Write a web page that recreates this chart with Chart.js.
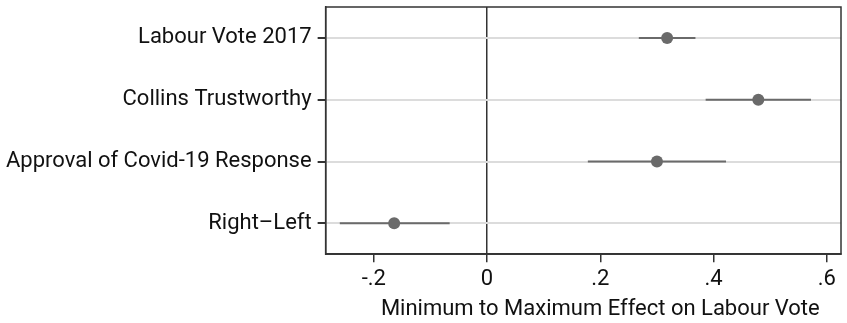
<!DOCTYPE html>
<html>
<head>
<meta charset="utf-8">
<script src="https://cdn.jsdelivr.net/npm/chart.js@4"></script>
<style>
html,body{margin:0;padding:0;background:#fff;}
#wrap{width:847px;height:323px;position:relative;}
</style>
</head>
<body>
<div id="wrap"><canvas id="c" width="847" height="323"></canvas></div>
<script>
const categories = ["Labour Vote 2017", "Collins Trustworthy", "Approval of Covid-19 Response", "Right\u2013Left"];
const estimates = [0.318, 0.479, 0.300, -0.164];
const lowerCI = [0.268, 0.386, 0.178, -0.260];
const upperCI = [0.368, 0.572, 0.422, -0.066];
const xTicks = [-0.2, 0, 0.2, 0.4, 0.6];
const xTickLabels = ["-.2", "0", ".2", ".4", ".6"];
const xTitle = "Minimum to Maximum Effect on Labour Vote";

const n = categories.length;
const posOf = i => n - i; // top category at top
const points = estimates.map((v, i) => ({x: v, y: posOf(i)}));

const dark = '#333333';
const markColor = '#6a6a6a';
const FONT = 'Roboto';
const FS = 22;

const whiskerPlugin = {
  id: 'whiskers',
  beforeDatasetsDraw(chart) {
    const ctx = chart.ctx, xs = chart.scales.x, ys = chart.scales.y;
    ctx.save();
    ctx.strokeStyle = markColor;
    ctx.lineWidth = 2;
    for (let i = 0; i < n; i++) {
      const y = ys.getPixelForValue(posOf(i));
      ctx.beginPath();
      ctx.moveTo(xs.getPixelForValue(lowerCI[i]), y);
      ctx.lineTo(xs.getPixelForValue(upperCI[i]), y);
      ctx.stroke();
    }
    ctx.restore();
  }
};
const framePlugin = {
  id: 'frame',
  afterDraw(chart) {
    const a = chart.chartArea, ctx = chart.ctx, xs = chart.scales.x;
    ctx.save();
    ctx.strokeStyle = dark;
    ctx.lineWidth = 1.5;
    ctx.strokeRect(a.left, a.top, a.right - a.left, a.bottom - a.top);
    // axis title centred on the tick range, as in the reference
    const mid = (xTicks[0] + xTicks[xTicks.length - 1]) / 2;
    ctx.fillStyle = '#111';
    ctx.font = FS + 'px ' + FONT;
    ctx.textAlign = 'center';
    ctx.textBaseline = 'middle';
    ctx.fillText(xTitle, xs.getPixelForValue(mid), xs.bottom - FS * 1.2 / 2);
    ctx.restore();
  }
};

new Chart(document.getElementById('c'), {
  type: 'scatter',
  data: {
    datasets: [{
      data: points,
      backgroundColor: markColor,
      borderColor: markColor,
      pointRadius: 6,
      pointHoverRadius: 6,
      borderWidth: 0
    }]
  },
  options: {
    responsive: false,
    animation: false,
    layout: {padding: {top: 7, right: 6, left: 0, bottom: 0}},
    plugins: {legend: {display: false}, tooltip: {enabled: false}},
    scales: {
      x: {
        type: 'linear',
        min: -0.285,
        max: 0.625,
        afterBuildTicks(scale) { scale.ticks = xTicks.map(v => ({value: v})); },
        afterFit(scale) { scale.paddingLeft = 0; scale.paddingRight = 0; },
        ticks: {
          color: '#111',
          font: {family: FONT, size: FS},
          padding: 4,
          maxRotation: 0,
          callback: (v) => { const k = xTicks.findIndex(t => Math.abs(t - v) < 1e-9); return k >= 0 ? xTickLabels[k] : ''; }
        },
        grid: {
          color: ctx => (ctx.tick && Math.abs(ctx.tick.value) < 1e-9) ? dark : 'rgba(0,0,0,0)',
          lineWidth: 1.5,
          tickColor: dark,
          tickLength: 8,
          drawTicks: true
        },
        border: {display: true, color: dark, width: 1.5},
        title: {display: true, text: xTitle, color: 'rgba(0,0,0,0)', font: {family: FONT, size: FS}, padding: {top: 0, bottom: 0}}
      },
      y: {
        type: 'linear',
        min: 0.5,
        max: n + 0.5,
        afterBuildTicks(scale) { scale.ticks = categories.map((c, i) => ({value: posOf(i)})); },
        afterFit(scale) { scale.paddingTop = 0; scale.paddingBottom = 0; },
        ticks: {
          color: '#111',
          font: {family: FONT, size: FS},
          padding: 6,
          callback: (v) => { const i = n - v; return categories[i] !== undefined ? categories[i] : ''; }
        },
        grid: {
          color: '#dcdcdc',
          lineWidth: 2,
          tickColor: dark,
          tickLength: 8
        },
        border: {display: true, color: dark, width: 1.5}
      }
    }
  },
  plugins: [whiskerPlugin, framePlugin]
});
</script>
</body>
</html>
